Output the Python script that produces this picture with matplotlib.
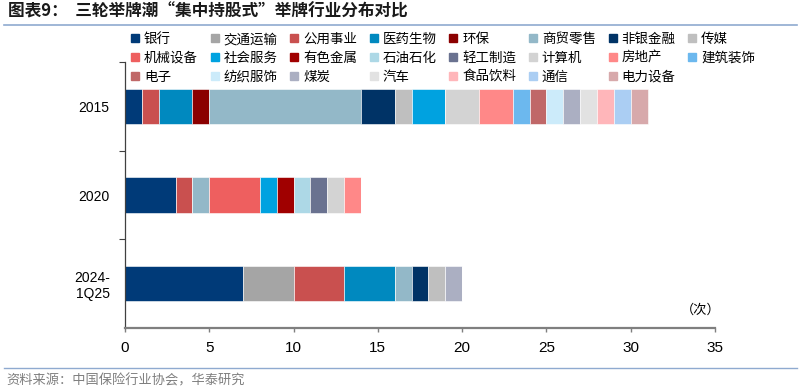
import matplotlib
matplotlib.use("Agg")
import matplotlib.pyplot as plt
from matplotlib.lines import Line2D
import numpy as np

plt.rcParams['font.family'] = ['Noto Sans CJK SC', 'DejaVu Sans']

categories = ['2015', '2020', '2024-\n1Q25']
industries = ['银行', '交通运输', '公用事业', '医药生物', '环保', '商贸零售', '非银金融', '传媒',
              '机械设备', '社会服务', '有色金属', '石油石化', '轻工制造', '计算机', '房地产', '建筑装饰',
              '电子', '纺织服饰', '煤炭', '汽车', '食品饮料', '通信', '电力设备']
colors = ['#003A78', '#A5A5A5', '#C9504F', '#0089BF', '#8B0000', '#93B8C8', '#003366', '#BFBFBF',
          '#EE5F5F', '#00A2E0', '#A00000', '#ADD8E6', '#6A7290', '#D3D3D3', '#FF8888', '#6CB8EE',
          '#C06868', '#CCEBFA', '#ABAFC2', '#E2E2E2', '#FFB6BA', '#ABCEF3', '#D7A9AB']
v2015 = [1, 0, 1, 2, 1, 9, 2, 1, 0, 2, 0, 0, 0, 2, 2, 1, 1, 1, 1, 1, 1, 1, 1]
v2020 = [3, 0, 1, 0, 0, 1, 0, 0, 3, 1, 1, 1, 1, 1, 1, 0, 0, 0, 0, 0, 0, 0, 0]
v2024 = [7, 3, 3, 3, 0, 1, 1, 1, 0, 0, 0, 0, 0, 0, 0, 0, 0, 0, 1, 0, 0, 0, 0]
xticks = [0, 5, 10, 15, 20, 25, 30, 35]

fig = plt.figure(figsize=(8, 3.92), dpi=100)
ax = fig.add_axes([125/800, 1-328/392, 590/800, (328-62)/392])

data = np.array([v2015, v2020, v2024], dtype=float)
ypos = np.arange(len(categories))
left = np.zeros(len(categories))
for i, name in enumerate(industries):
    vals = data[:, i]
    ax.barh(ypos, vals, left=left, height=0.40, color=colors[i],
            edgecolor='white', linewidth=0.4, label=name)
    left += vals

ax.set_ylim(2.5, -0.5)
ax.set_xlim(0, 35)
ax.set_xticks(xticks)
ax.set_xticklabels([str(t) for t in xticks],
                   fontfamily=['Liberation Sans Narrow', 'Liberation Sans', 'DejaVu Sans'], fontsize=11)
ax.set_yticks(ypos)
ax.set_yticklabels(categories, fontfamily=['Liberation Sans', 'DejaVu Sans'], fontsize=10,
                   multialignment='right')
ax.set_yticks([-0.5, 0.5, 1.5], minor=True)
ax.tick_params(axis='y', which='major', length=0, pad=11, colors='#000000')
ax.tick_params(axis='y', which='minor', length=4, width=0.8, color='#404040', direction='out')
ax.tick_params(axis='x', length=3, width=1, color='#7F7F7F', pad=6)
for s in ['top', 'right']:
    ax.spines[s].set_visible(False)
ax.spines['left'].set_color('#404040')
ax.spines['left'].set_linewidth(0.9)
ax.spines['bottom'].set_color('#7F7F7F')
ax.spines['bottom'].set_linewidth(1.6)

ax.text(0.975, 0.068, '（次）', transform=ax.transAxes, ha='center', va='center', fontsize=9.5)

# legend, row-major order across 8 columns
ncol = 8
order = []
for c in range(ncol):
    for r in range(3):
        idx = r * ncol + c
        if idx < len(industries):
            order.append(idx)
handles = [Line2D([], [], marker='s', linestyle='none', markersize=5.2,
                  markerfacecolor=colors[i], markeredgecolor=colors[i]) for i in order]
labels = [industries[i] for i in order]
fig.legend(handles, labels, ncol=ncol, loc='upper left', bbox_to_anchor=(131/800, 1-32/392),
           frameon=False, fontsize=9.7, handlelength=0.6, handletextpad=0.35,
           columnspacing=0.95, labelspacing=0.36, borderpad=0, borderaxespad=0)

# title and footer
fig.text(8/800, 1-12/392, '图表9：  三轮举牌潮“集中持股式”举牌行业分布对比', fontsize=12,
         fontweight='bold', ha='left', va='center', color='#1A1A1A')
fig.add_artist(Line2D([4/800, 797/800], [1-25/392, 1-25/392], color='#8FAAD0', linewidth=1.2))
fig.add_artist(Line2D([4/800, 797/800], [1-368/392, 1-368/392], color='#8FAAD0', linewidth=1.0))
fig.text(6/800, 1-381/392, '资料来源：中国保险行业协会，华泰研究', fontsize=9.5,
         ha='left', va='center', color='#7F7F7F')

fig.savefig('out.png', dpi=100)
